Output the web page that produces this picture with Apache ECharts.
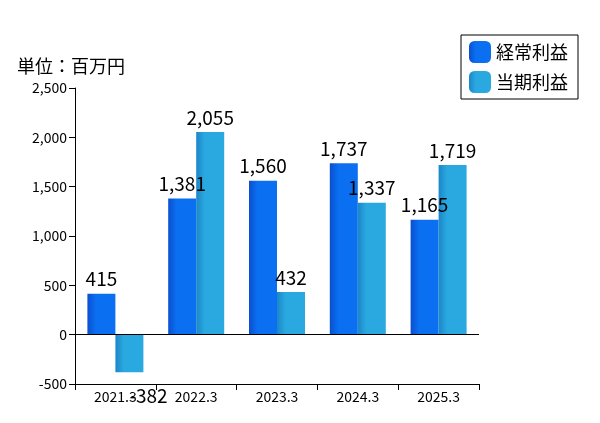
<!DOCTYPE html><html><head><meta charset="utf-8"><script src="https://cdn.jsdelivr.net/npm/echarts@6/dist/echarts.min.js"></script></head><body style="margin:0"><div id="c" style="width:600px;height:423px"></div><script>
const categories=['2021.3','2022.3','2023.3','2024.3','2025.3'];
const ordinary=[415,1381,1560,1737,1165];
const net=[-382,2055,432,1337,1719];
const yTicks={min:-500,max:2500,interval:500};
const ch=echarts.init(document.getElementById('c'));
function grad(c1,c2){return new echarts.graphic.LinearGradient(0,0,1,0,[{offset:0,color:c1},{offset:0.3,color:c2},{offset:1,color:c2}]);}
const lbl={show:true,position:'top',color:'#000',fontSize:19,fontFamily:'Noto Sans CJK JP',formatter:p=>p.value.toLocaleString('en-US')};
ch.setOption({
animation:false,
textStyle:{fontFamily:'Noto Sans CJK JP'},
title:{text:'単位：百万円',left:12,top:52,textStyle:{fontSize:18,fontWeight:'normal',color:'#000'}},
legend:{orient:'vertical',right:22,top:35,itemWidth:22,itemHeight:22,itemGap:8,padding:[6,10,6,8],borderColor:'#000',borderWidth:1,textStyle:{fontSize:18,color:'#000'},data:['経常利益','当期利益']},
grid:{left:75,right:121,top:88,bottom:39},
xAxis:{type:'category',data:categories,axisLine:{onZero:false,lineStyle:{color:'#000'}},axisTick:{show:true,length:6,lineStyle:{color:'#000'}},axisLabel:{color:'#000',fontSize:14,margin:6}},
yAxis:{type:'value',...yTicks,axisLine:{show:true,lineStyle:{color:'#000'}},axisTick:{show:true,inside:false,length:6,lineStyle:{color:'#000'}},splitLine:{show:false},axisLabel:{color:'#000',fontSize:14,formatter:v=>v.toLocaleString('en-US')}},
series:[
{name:'経常利益',type:'bar',data:ordinary,barWidth:28,barGap:'0%',itemStyle:{color:grad('#0a4fd0','#0a6ff0')},label:lbl,markLine:{silent:true,symbol:'none',label:{show:false},lineStyle:{color:'#000',type:'solid',width:1},data:[{yAxis:0}]}},
{name:'当期利益',type:'bar',data:net,barWidth:28,itemStyle:{color:grad('#1b86c8','#2aa8e0')},label:{...lbl,position:'top'},labelLayout:p=>p.dataIndex===0?{y:p.rect.y+p.rect.height+14}:{}}
]});
</script></body></html>
